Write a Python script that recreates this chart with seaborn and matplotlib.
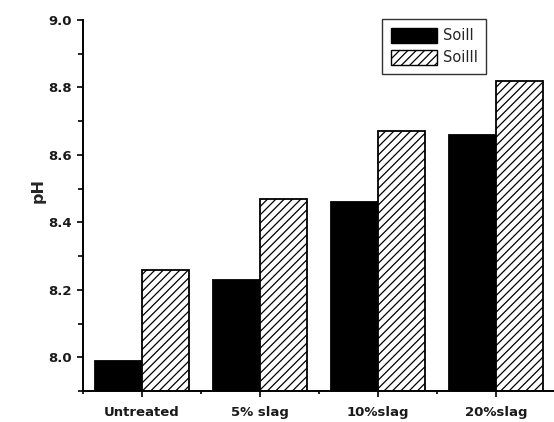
import matplotlib
matplotlib.use("Agg")
import matplotlib.pyplot as plt
from matplotlib.patches import Patch
from matplotlib.ticker import MultipleLocator, FixedLocator
import seaborn as sns
import pandas as pd

treatments = ["Untreated", "5% slag", "10%slag", "20%slag"]
soil_names = ["SoilI", "SoilII"]
ph_soil1 = [7.99, 8.23, 8.46, 8.66]
ph_soil2 = [8.26, 8.47, 8.67, 8.82]

df = pd.DataFrame({
    "treatment": treatments * 2,
    "soil": [soil_names[0]] * 4 + [soil_names[1]] * 4,
    "pH": ph_soil1 + ph_soil2,
})

sns.set_style("white")
plt.rcParams["font.family"] = ["DejaVu Sans"]
plt.rcParams["hatch.linewidth"] = 0.9

fig = plt.figure(figsize=(5.54, 4.22), dpi=100)
ax = fig.add_axes([83 / 554, 31 / 422, 472 / 554, 371 / 422])

sns.barplot(data=df, x="treatment", y="pH", hue="soil", order=treatments,
            hue_order=soil_names, width=0.8, ax=ax, legend=False,
            saturation=1)

styles = [dict(fc="black", hatch=None), dict(fc="white", hatch="////")]
for cont, st in zip(ax.containers, styles):
    for bar in cont:
        bar.set_facecolor(st["fc"])
        bar.set_edgecolor("black")
        bar.set_linewidth(1.3)
        if st["hatch"]:
            bar.set_hatch(st["hatch"])

ax.set_ylim(7.9, 9.0)
ax.set_xlim(-0.5, 3.5)
ax.yaxis.set_major_locator(FixedLocator([8.0, 8.2, 8.4, 8.6, 8.8, 9.0]))
ax.yaxis.set_minor_locator(MultipleLocator(0.1))
ax.xaxis.set_minor_locator(FixedLocator([-0.5, 0.5, 1.5, 2.5, 3.5]))

for s in ["top", "right"]:
    ax.spines[s].set_visible(False)
for s in ["left", "bottom"]:
    ax.spines[s].set_linewidth(1.4)
    ax.spines[s].set_color("black")

ax.tick_params(axis="both", which="both", bottom=True, left=True,
               direction="out", width=1.2, color="black")
ax.tick_params(axis="y", which="major", length=4.3, labelsize=9.5, pad=3.6)
ax.tick_params(axis="y", which="minor", length=3.6)
ax.tick_params(axis="x", which="major", length=4.3, labelsize=9.5, pad=6.5)
ax.tick_params(axis="x", which="minor", length=2.5)
for lab in ax.get_xticklabels() + ax.get_yticklabels():
    lab.set_fontweight("bold")
    lab.set_color("#1a1a1a")

ax.set_xlabel("")
ax.set_ylabel("pH", fontsize=11.5, fontweight="bold")
ax.yaxis.set_label_coords(-0.08, 0.54)

handles = [Patch(facecolor="black", edgecolor="black", label=soil_names[0]),
           Patch(facecolor="white", edgecolor="black", hatch="////",
                 label=soil_names[1])]
leg = ax.legend(handles=handles, loc="upper left",
                bbox_to_anchor=(299 / 472, 1.003), frameon=True,
                fancybox=False, edgecolor="black", fontsize=10.5,
                handlelength=3.2, handleheight=1.2, borderpad=0.6,
                labelspacing=0.45, handletextpad=0.35, borderaxespad=0)
leg.get_frame().set_linewidth(1.0)

fig.savefig("out.png", dpi=100)
